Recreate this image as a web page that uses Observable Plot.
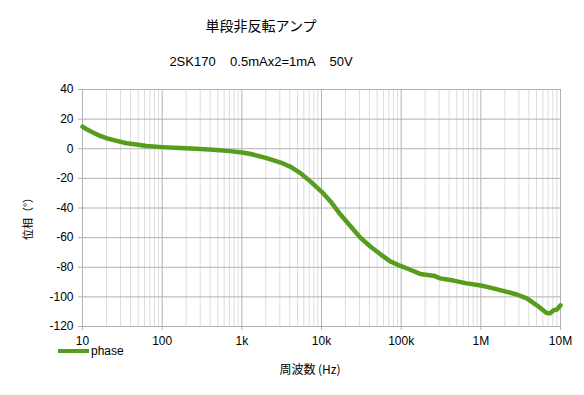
<!DOCTYPE html>
<html>
<head>
<meta charset="utf-8">
<script src="https://cdn.jsdelivr.net/npm/d3@7"></script>
<script src="https://cdn.jsdelivr.net/npm/@observablehq/plot@0.6"></script>
<style>
  body { margin: 0; background: #fff; }
  #wrap { position: relative; width: 584px; height: 395px; overflow: hidden; font-family: "Liberation Sans", Arial, sans-serif; }
  #titles { position: relative; width: 584px; height: 80px; }
  .t { position: absolute; left: 0; width: 522px; text-align: center; white-space: pre; color: #000; }
  .jp { font-family: "Noto Sans CJK JP", sans-serif; }
  #xlabel { position: absolute; left: 250px; width: 120px; top: 360px; text-align: center; font-size: 12px; }
  #ylabel { position: absolute; left: 27px; top: 216px; transform: translate(-50%, -50%) rotate(-90deg); font-size: 11px; white-space: pre; }
  #legend { position: absolute; left: 58px; top: 343px; height: 16px; display: flex; align-items: center; font-size: 12px; }
  #legend .sw { width: 31px; height: 4px; background: #579d1c; margin-right: 2px; }
</style>
</head>
<body>
<div id="wrap">
  <div id="titles">
    <div class="t jp" style="top:15px;font-size:14px;">単段非反転アンプ</div>
    <div class="t" style="top:54px;font-size:13px;">2SK170    0.5mAx2=1mA    50V</div>
  </div>
  <div id="chart"></div>
  <div id="xlabel" class="jp">周波数 (Hz)</div>
  <div id="ylabel" class="jp">位相（°）</div>
  <div id="legend"><div class="sw"></div><span>phase</span></div>
</div>
<script>
const freq = [10, 11.3, 13.7, 16.6, 20, 26.9, 35.8, 47.8, 63.7, 100, 166, 269, 436, 708, 1000, 1260, 2000, 3070, 4100, 5500, 7300, 10000, 13000, 17300, 23000, 30700, 41000, 54600, 72900, 100000, 130000, 173000, 255000, 309000, 454000, 667000, 1000000, 1440000, 2120000, 2830000, 3780000, 5050000, 6700000, 7400000, 8200000, 9000000, 10000000];
const phase = [14.9, 13.1, 10.8, 8.7, 7.1, 5.3, 3.7, 2.8, 1.8, 1.1, 0.5, 0, -0.7, -1.6, -2.5, -3.4, -6.2, -9.3, -12.2, -16.7, -22.2, -28.9, -35.6, -44.4, -52.2, -60, -66, -71.1, -76, -79.3, -81.7, -84.5, -85.7, -87.5, -89, -90.9, -92.3, -94.3, -96.6, -98.4, -101, -105.7, -110.9, -111, -109, -108.6, -105.7];

const xMajor = [10, 100, 1000, 10000, 100000, 1000000, 10000000];
const xMajorLabels = ["10", "100", "1k", "10k", "100k", "1M", "10M"];
const yTicks = [-120, -100, -80, -60, -40, -20, 0, 20, 40];

const xMinor = [];
for (let k = 0; k < xMajor.length - 1; k++) {
  for (let m = 2; m <= 9; m++) xMinor.push(xMajor[k] * m);
}
const labelOf = new Map(xMajor.map((v, i) => [v, xMajorLabels[i]]));
const data = freq.map((f, i) => ({f, p: phase[i]}));

const chart = Plot.plot({
  width: 584,
  height: 315,
  marginTop: 9,
  marginBottom: 69,
  marginLeft: 82,
  marginRight: 24,
  style: {fontFamily: "'Liberation Sans', Arial, sans-serif", fontSize: "12px", color: "#000", background: "#fff", overflow: "visible"},
  x: {type: "log", domain: [10, 1e7]},
  y: {domain: [-120, 40]},
  marks: [
    Plot.ruleX(xMinor, {stroke: "#dddddd", strokeOpacity: 1}),
    Plot.ruleX(xMajor, {stroke: "#b3b3b3", strokeOpacity: 1}),
    Plot.ruleY(yTicks, {stroke: "#b3b3b3", strokeOpacity: 1}),
    Plot.axisX({ticks: xMajor, tickFormat: d => labelOf.get(d), tickSize: 4, tickPadding: 6, stroke: "#b3b3b3", label: null}),
    Plot.axisY({ticks: yTicks, tickFormat: d => String(d), tickSize: 4, tickPadding: 5, stroke: "#b3b3b3", label: null}),
    Plot.line(data, {x: "f", y: "p", stroke: "#579d1c", strokeWidth: 4.5, strokeLinejoin: "round"})
  ]
});
document.getElementById("chart").appendChild(chart);
</script>
</body>
</html>
